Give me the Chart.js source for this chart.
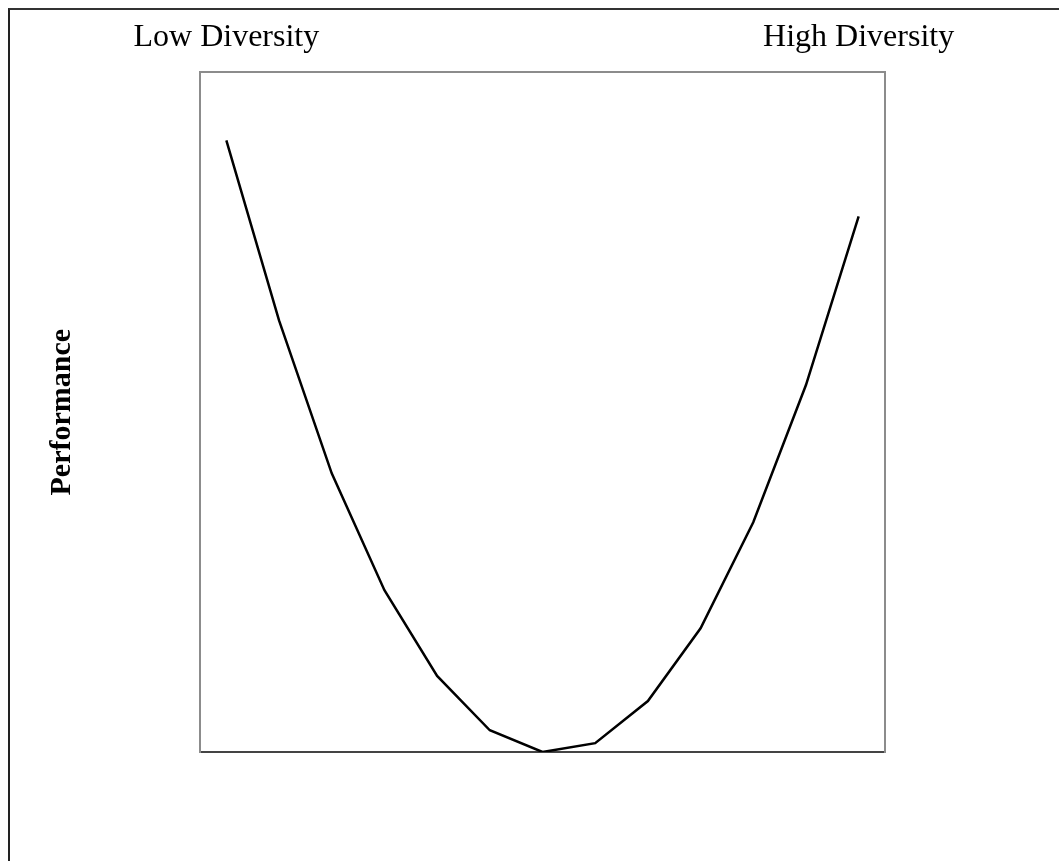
<!DOCTYPE html>
<html>
<head>
<meta charset="utf-8">
<script src="https://cdn.jsdelivr.net/npm/chart.js@4/dist/chart.umd.min.js"></script>
<style>
  html, body { margin: 0; padding: 0; background: #fff; overflow: hidden; }
  #frame {
    position: absolute; left: 8px; top: 8px; width: 1200px; height: 1000px;
    border-top: 2px solid #333; border-left: 2px solid #222;
  }
  #chart { position: absolute; left: 0; top: 0; }
</style>
</head>
<body>
<div id="frame"></div>
<canvas id="chart" width="1059" height="861"></canvas>
<script>
// diversity levels along the x axis, only the two ends are labelled
const categories = ["Low Diversity", "", "", "", "", "", "", "", "", "", "", "", "High Diversity"];
// performance (0 = bottom of plot, 100 = top)
const performance = [90.0, 63.5, 41.0, 23.8, 11.2, 3.2, 0, 1.3, 7.5, 18.2, 33.8, 54.0, 78.8];

const serif = "'Liberation Serif', 'Times New Roman', serif";
const boxGray = "#8c8c8c";

const ctx = document.getElementById("chart").getContext("2d");
new Chart(ctx, {
  type: "line",
  data: {
    labels: categories,
    datasets: [
      {
        label: "Performance",
        data: performance,
        borderColor: "#000",
        borderWidth: 2.5,
        pointRadius: 0,
        tension: 0,
        fill: false,
      },
    ],
  },
  options: {
    responsive: false,
    animation: false,
    layout: {
      padding: { left: 44, right: 166, top: 10, bottom: 101 },
    },
    scales: {
      x: {
        position: "top",
        offset: true,
        grid: { display: false },
        border: { display: true, color: boxGray, width: 2 },
        ticks: {
          autoSkip: false,
          maxRotation: 0,
          padding: 8,
          color: "#000",
          font: { family: serif, size: 32 },
        },
      },
      xBottom: {
        type: "category",
        position: "bottom",
        offset: true,
        grid: { display: false },
        border: { display: true, color: "#444", width: 2 },
        ticks: { display: false },
      },
      y: {
        position: "left",
        min: 0,
        max: 100,
        grid: { display: false },
        border: { display: true, color: boxGray, width: 2 },
        ticks: { display: false },
        title: {
          display: true,
          text: "Performance",
          color: "#000",
          font: { family: serif, size: 30, weight: "bold", lineHeight: 1.2 },
          padding: { top: 0, bottom: 112 },
        },
      },
      yRight: {
        type: "linear",
        position: "right",
        grid: { display: false },
        border: { display: true, color: boxGray, width: 2 },
        ticks: { display: false },
      },
    },
    plugins: {
      legend: { display: false },
      tooltip: { enabled: false },
    },
  },
});
</script>
</body>
</html>
